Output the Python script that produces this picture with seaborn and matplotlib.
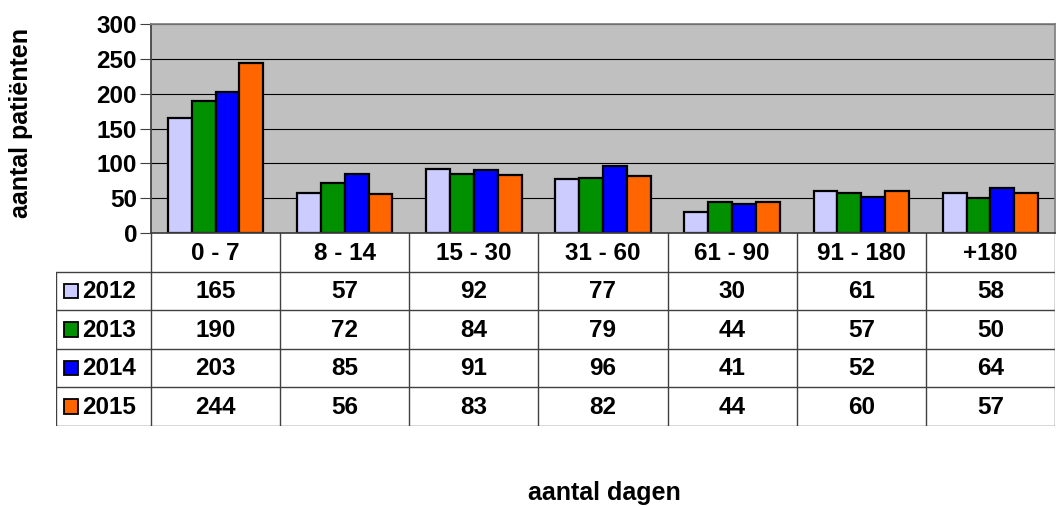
import matplotlib
matplotlib.use("Agg")
import matplotlib.pyplot as plt
import seaborn as sns
import pandas as pd
from matplotlib.patches import Rectangle

# ── data ────────────────────────────────────────────────────────────────
categorieen = ["0 - 7", "8 - 14", "15 - 30", "31 - 60", "61 - 90", "91 - 180", "+180"]
jaren = ["2012", "2013", "2014", "2015"]
w2012 = [165, 57, 92, 77, 30, 61, 58]
w2013 = [190, 72, 84, 79, 44, 57, 50]
w2014 = [203, 85, 91, 96, 41, 52, 64]
w2015 = [244, 56, 83, 82, 44, 60, 57]
kleuren = ["#CCCCFF", "#009000", "#0000FF", "#FF6600"]

reeksen = [w2012, w2013, w2014, w2015]
df = pd.DataFrame([
    {"dagen": c, "jaar": j, "aantal": v}
    for j, vals in zip(jaren, reeksen)
    for c, v in zip(categorieen, vals)
])

sns.set_theme(style="white")
plt.rcParams["font.family"] = ["Liberation Sans", "DejaVu Sans"]
plt.rcParams["font.weight"] = "bold"
plt.rcParams["text.color"] = "black"
plt.rcParams["ytick.color"] = "black"

FS = 17.5
W, H = 1056, 507
fig = plt.figure(figsize=(W / 100, H / 100), dpi=100)

def px_axes(x0, y0, x1, y1):
    return fig.add_axes([x0 / W, 1 - y1 / H, (x1 - x0) / W, (y1 - y0) / H])

# ── grafiek ─────────────────────────────────────────────────────────────
ax = px_axes(151, 24, 1055, 233)
ax.set_facecolor("#C0C0C0")
sns.barplot(data=df, x="dagen", y="aantal", hue="jaar", order=categorieen,
            hue_order=jaren, palette=kleuren, width=0.74, gap=0,
            edgecolor="black", linewidth=1.6, saturation=1, ax=ax, legend=False)
ax.set_ylim(0, 300)
ax.set_xlim(-0.5, 6.5)
ax.set_yticks(range(0, 301, 50))
ax.yaxis.grid(True, color="black", lw=0.8)
ax.set_axisbelow(True)
ax.tick_params(axis="y", left=True, length=8, width=0.8, color="#404040",
               labelsize=FS, labelcolor="black", pad=2)
ax.tick_params(axis="x", bottom=False, labelbottom=False)
for lbl in ax.get_yticklabels():
    lbl.set_fontweight("bold")
for s in ["top", "right"]:
    ax.spines[s].set_color("#808080")
ax.spines["left"].set_color("#404040")
ax.spines["bottom"].set_color("#404040")
ax.set_xlabel("")
ax.set_ylabel("")
fig.text(21 / W, 1 - 123 / H, "aantal patiënten", rotation=90, ha="center",
         va="center", fontsize=18, fontweight="bold")

# ── gegevenstabel ───────────────────────────────────────────────────────
links = 95 / ((1055 - 151) / 7)
tax = px_axes(56, 233, 1055, 426)
tax.set_xlim(-0.5 - links, 6.5)
tax.set_ylim(5, 0)
tax.axis("off")
lijn = dict(color="#404040", lw=1)
x_l = -0.5 - links
for r in range(1, 6):
    tax.plot([x_l, 6.5], [r, r], **lijn)
for k in range(8):
    tax.plot([k - 0.5, k - 0.5], [0, 5], **lijn)
tax.plot([x_l, x_l], [1, 5], **lijn)

for i, c in enumerate(categorieen):
    tax.text(i, 0.52, c, ha="center", va="center", fontsize=FS, fontweight="bold")
for r, (j, vals, kl) in enumerate(zip(jaren, reeksen, kleuren), start=1):
    tax.add_patch(Rectangle((x_l + 0.065, r + 0.31), 0.105, 0.38, facecolor=kl,
                            edgecolor="black", lw=1.3, clip_on=False))
    tax.text(x_l + 0.205, r + 0.52, j, ha="left", va="center", fontsize=FS,
             fontweight="bold")
    for i, v in enumerate(vals):
        tax.text(i, r + 0.52, str(v), ha="center", va="center", fontsize=FS,
                 fontweight="bold")

fig.text(604 / W, 1 - 493 / H, "aantal dagen", ha="center", va="center",
         fontsize=18, fontweight="bold")

fig.savefig("out.png", dpi=100)
